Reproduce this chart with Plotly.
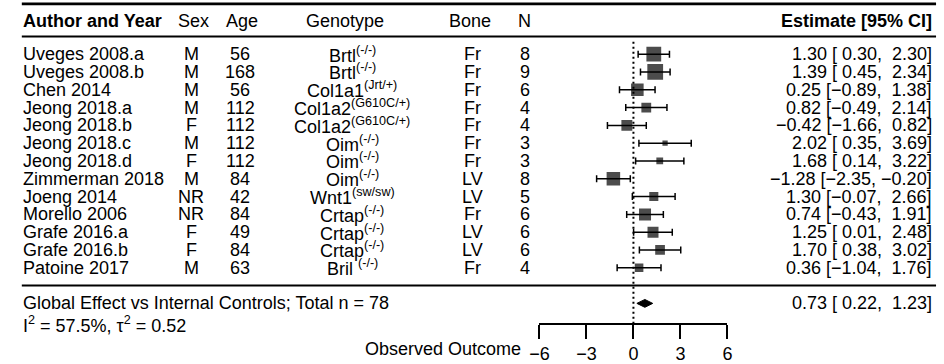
import numpy as np
import plotly.graph_objects as go

# ---- study data ----
authors = ["Uveges 2008.a", "Uveges 2008.b", "Chen 2014", "Jeong 2018.a", "Jeong 2018.b",
           "Jeong 2018.c", "Jeong 2018.d", "Zimmerman 2018", "Joeng 2014", "Morello 2006",
           "Grafe 2016.a", "Grafe 2016.b", "Patoine 2017"]
sex = ["M", "M", "M", "M", "F", "M", "F", "M", "NR", "NR", "F", "F", "M"]
age = [56, 168, 56, 112, 112, 112, 112, 84, 42, 84, 49, 84, 63]
genotype = ["Brtl<sup>(-/-)</sup>", "Brtl<sup>(-/-)</sup>", "Col1a1<sup>(Jrt/+)</sup>",
            "Col1a2<sup>(G610C/+)</sup>", "Col1a2<sup>(G610C/+)</sup>", "Oim<sup>(-/-)</sup>",
            "Oim<sup>(-/-)</sup>", "Oim<sup>(-/-)</sup>", "Wnt1<sup>(sw/sw)</sup>",
            "Crtap<sup>(-/-)</sup>", "Crtap<sup>(-/-)</sup>", "Crtap<sup>(-/-)</sup>",
            "Bril <sup>(-/-)</sup>"]
bone = ["Fr", "Fr", "Fr", "Fr", "Fr", "Fr", "Fr", "LV", "LV", "Fr", "LV", "LV", "Fr"]
n_animals = [8, 9, 6, 4, 4, 3, 3, 8, 5, 6, 6, 6, 4]
estimate = [1.30, 1.39, 0.25, 0.82, -0.42, 2.02, 1.68, -1.28, 1.30, 0.74, 1.25, 1.70, 0.36]
ci_low = [0.30, 0.45, -0.89, -0.49, -1.66, 0.35, 0.14, -2.35, -0.07, -0.43, 0.01, 0.38, -1.04]
ci_high = [2.30, 2.34, 1.38, 2.14, 0.82, 3.69, 3.22, -0.20, 2.66, 1.91, 2.48, 3.02, 1.76]

# ---- pooled model ----
pooled_est, pooled_low, pooled_high = 0.73, 0.22, 1.23
tau2 = 0.52
i2 = 57.5
total_n_label = "Global Effect vs Internal Controls; Total n = 78"

axis_ticks = [-6, -3, 0, 3, 6]

# ---- geometry (figure pixels) ----
W, H = 944, 364
ROW_PX = 18.2          # height of one row
SEP_PX = 292           # pixel y of the separator line (row 0)
r_max = SEP_PX / ROW_PX
r_min = (SEP_PX - H) / ROW_PX

FONT = "Liberation Sans, Arial, Helvetica, sans-serif"
FS = 18

k = len(authors)
rows = np.arange(k, 0, -1)
est = np.array(estimate)
lo = np.array(ci_low)
hi = np.array(ci_high)

# square size from random-effects weights
vi = ((hi - lo) / (2 * 1.96)) ** 2
wi = 1 / (vi + tau2)
psize = 0.5 + (wi - wi.min()) / (wi.max() - wi.min())
sizes = 10.5 * psize


def px(x):
    return x / W


def num(v):
    s = f"{abs(v):.2f}"
    return ("\u2212" + s) if v < 0 else s


def pad(v):
    return num(v) if v < 0 else "\u00a0" + num(v)


def ci_text(e, l, h):
    return f"{num(e)}\u00a0[{pad(l)},\u00a0{pad(h)}]"


fig = go.Figure()

# confidence intervals + weighted squares
fig.add_trace(go.Scatter(
    x=est, y=rows, mode="markers",
    marker=dict(symbol="square", size=sizes, color="black", line=dict(width=0)),
    error_x=dict(type="data", symmetric=False, array=hi - est, arrayminus=est - lo,
                 color="black", thickness=1.5, width=3.5),
    hoverinfo="skip", showlegend=False,
))

# pooled diamond
r_sum = -1.0
h_d = 0.22
fig.add_trace(go.Scatter(
    x=[pooled_low, pooled_est, pooled_high, pooled_est, pooled_low],
    y=[r_sum, r_sum + h_d, r_sum, r_sum - h_d, r_sum],
    mode="lines", fill="toself", fillcolor="black",
    line=dict(color="black", width=1), hoverinfo="skip", showlegend=False,
))

axis_px = 331
axis_row = (SEP_PX - axis_px) / ROW_PX

shapes = [
    # reference line at zero
    dict(type="line", xref="x", yref="y", x0=0, x1=0, y0=axis_row, y1=13.85,
         line=dict(color="black", width=2, dash="2px,3px")),
    # top rule, header rule, separator
    dict(type="line", xref="paper", yref="y", x0=px(12), x1=px(941),
         y0=(SEP_PX - 4) / ROW_PX, y1=(SEP_PX - 4) / ROW_PX, line=dict(color="black", width=2.6)),
    dict(type="line", xref="paper", yref="y", x0=px(12), x1=px(941),
         y0=k + 1, y1=k + 1, line=dict(color="black", width=2)),
    dict(type="line", xref="paper", yref="y", x0=px(12), x1=px(941),
         y0=0, y1=0, line=dict(color="black", width=2)),
]

annotations = []


def txt(x, y, s, anchor="left", bold=False, yref="y"):
    annotations.append(dict(
        x=px(x), y=y, xref="paper", yref=yref, text=f"<b>{s}</b>" if bold else s,
        xanchor=anchor, yanchor="middle", showarrow=False,
        font=dict(family=FONT, size=FS, color="black"), borderpad=0,
    ))


# header
r_head = 14.85
txt(12, r_head, "Author and Year", bold=True)
txt(186, r_head, "Sex", "center")
txt(236, r_head, "Age", "center")
txt(340, r_head, "Genotype", "center")
txt(467, r_head, "Bone", "center")
txt(523, r_head, "N", "center")
txt(938, r_head, "Estimate [95% CI]", "right", bold=True)

# study rows
for i in range(k):
    r = rows[i]
    txt(12, r, authors[i])
    txt(184, r, sex[i], "center")
    txt(234, r, str(age[i]), "center")
    txt(348, r, genotype[i], "center")
    txt(470, r, bone[i], "center")
    txt(523, r, str(n_animals[i]), "center")
    txt(938, r, ci_text(est[i], lo[i], hi[i]), "right")

# summary
txt(12, r_sum, total_n_label)
txt(12, -2.2, f"I<sup>2</sup> = {i2}%, \u03c4<sup>2</sup> = {tau2:.2f}")
txt(938, r_sum, ci_text(pooled_est, pooled_low, pooled_high), "right")
txt(520, (H - 357) / H, "Observed Outcome", "right", yref="paper")

fig.update_layout(
    width=W, height=H, margin=dict(l=0, r=0, t=0, b=0),
    paper_bgcolor="white", plot_bgcolor="white",
    xaxis=dict(domain=[px(538), px(729)], range=[-6, 6], anchor="free",
               position=(H - axis_px) / H, showline=True, linecolor="black", linewidth=1.6,
               ticks="outside", ticklen=14, tickwidth=1.6, tickcolor="black",
               tickvals=axis_ticks, showgrid=False, zeroline=False,
               tickfont=dict(family=FONT, size=FS, color="black")),
    yaxis=dict(domain=[0, 1], range=[r_min, r_max], visible=False, fixedrange=True),
    shapes=shapes, annotations=annotations,
)

fig.write_html("out.html")
